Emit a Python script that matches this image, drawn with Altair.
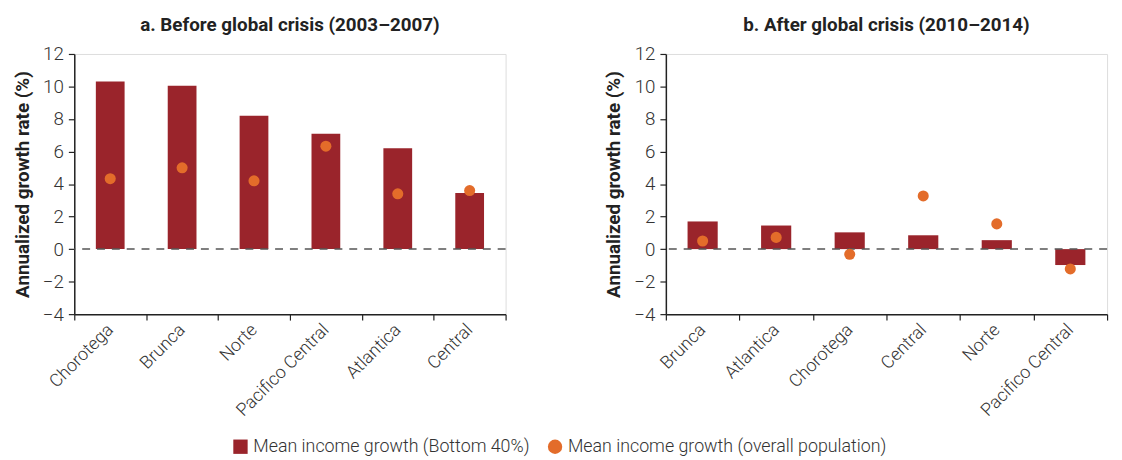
import altair as alt
import pandas as pd

# Panel a: Before global crisis (2003-2007)
regions_a = ["Chorotega", "Brunca", "Norte", "Pacifico Central", "Atlantica", "Central"]
bottom40_a = [10.3, 10.05, 8.2, 7.1, 6.2, 3.45]
overall_a = [4.33, 5.0, 4.2, 6.33, 3.4, 3.6]

# Panel b: After global crisis (2010-2014)
regions_b = ["Brunca", "Atlantica", "Chorotega", "Central", "Norte", "Pacifico Central"]
bottom40_b = [1.7, 1.45, 1.03, 0.85, 0.55, -0.98]
overall_b = [0.5, 0.72, -0.32, 3.27, 1.55, -1.22]

title_a = "a. Before global crisis (2003–2007)"
title_b = "b. After global crisis (2010–2014)"
series_bar = "Mean income growth (Bottom 40%)"
series_dot = "Mean income growth (overall population)"
y_ticks = [-4, -2, 0, 2, 4, 6, 8, 10, 12]

BAR_COLOR = "#9A242B"
DOT_COLOR = "#E36C2A"
FONT = "Roboto"
TXT = "#333333"
AX = "#222222"

color_scale = alt.Scale(domain=[series_bar, series_dot], range=[BAR_COLOR, DOT_COLOR])
shape_scale = alt.Scale(domain=[series_bar, series_dot], range=["square", "circle"])


def panel(regions, bars, dots, title, width, band):
    df_bar = pd.DataFrame({"region": regions, "value": bars, "series": series_bar})
    df_dot = pd.DataFrame({"region": regions, "value": dots, "series": series_dot})
    df_zero = pd.DataFrame({"value": [0]})
    x = alt.X(
        "region:N",
        sort=regions,
        scale=alt.Scale(paddingInner=0, paddingOuter=0),
        axis=alt.Axis(
            title=None,
            labelAngle=-45,
            labelAlign="right",
            labelBaseline="middle",
            tickBand="extent",
            tickSize=6,
            labelPadding=7,
            labelFontSize=18,
            labelColor=TXT,
            labelFont=FONT,
            labelFontWeight=300,
            domainColor=AX,
            tickColor=AX,
            domainWidth=1.5,
            tickWidth=1.2,
        ),
    )
    y = alt.Y(
        "value:Q",
        scale=alt.Scale(domain=[-4, 12], nice=False),
        axis=alt.Axis(
            title="Annualized growth rate (%)",
            values=y_ticks,
            labelOverlap=False,
            grid=False,
            tickSize=6,
            labelFontSize=19,
            labelColor=TXT,
            labelFont=FONT,
            labelFontWeight=300,
            labelPadding=5,
            titleFont=FONT,
            titleFontSize=19,
            titleFontWeight="bold",
            titleColor=AX,
            titlePadding=10,
            domainColor=AX,
            tickColor=AX,
            domainWidth=1.5,
            tickWidth=1.2,
        ),
    )
    legend = alt.Legend(
        title=None,
        orient="none",
        direction="horizontal",
        legendX=159,
        legendY=388,
        symbolSize=210,
        symbolStrokeWidth=0,
        labelFontSize=18,
        labelFont=FONT,
        labelFontWeight=300,
        labelColor=TXT,
        columnPadding=16,
        labelLimit=400,
    )
    bar = alt.Chart(df_bar).mark_bar(width=alt.RelativeBandSize(band)).encode(
        x=x,
        y=y,
        color=alt.Color("series:N", scale=color_scale, legend=legend),
        shape=alt.Shape("series:N", scale=shape_scale, legend=legend),
    )
    zero = alt.Chart(df_zero).mark_rule(
        strokeDash=[8, 7], color="#555555", strokeWidth=1.5
    ).encode(y=y)
    dot = alt.Chart(df_dot).mark_point(size=125, filled=True, opacity=1).encode(
        x=x,
        y=y,
        color=alt.Color("series:N", scale=color_scale, legend=legend),
        shape=alt.Shape("series:N", scale=shape_scale, legend=legend),
    )
    return alt.layer(bar, zero, dot).properties(
        width=width,
        height=263,
        title=alt.TitleParams(
            title, font=FONT, fontSize=19, fontWeight="bold", color=AX, offset=10
        ),
    )


left = panel(regions_a, bottom40_a, overall_a, title_a, 436, 0.4)
right = panel(regions_b, bottom40_b, overall_b, title_b, 446, 0.41)

chart = (
    alt.hconcat(left, right, spacing=98)
    .resolve_scale(color="shared", shape="shared")
    .configure_view(stroke=None)
    .configure(font=FONT)
)

chart.save("out.html", embed_options={"renderer": "svg", "actions": False})
